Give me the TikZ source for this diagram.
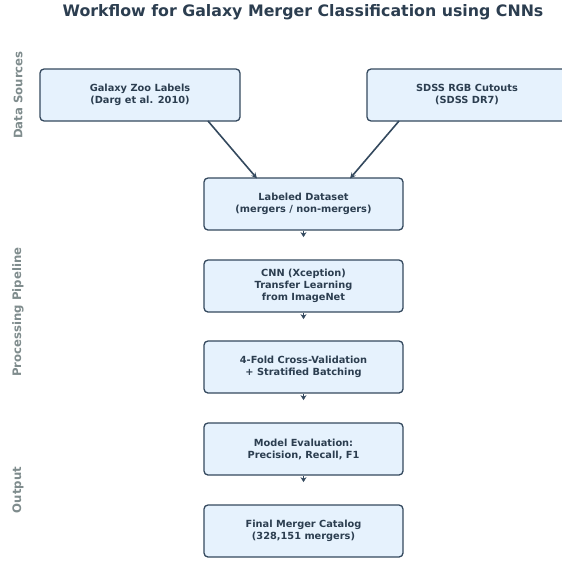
\documentclass[tikz,border=0pt]{standalone}
\usepackage{fontspec}
\setmainfont{DejaVu Sans}
\usetikzlibrary{arrows.meta,calc}
\definecolor{ink}{HTML}{2C3E50}
\definecolor{edge}{HTML}{34495E}
\definecolor{boxfill}{HTML}{E6F2FD}
\definecolor{side}{HTML}{7F8C8D}
\begin{document}
\begin{tikzpicture}[x=1pt,y=-1pt,
  box/.style={draw=edge,fill=boxfill,line width=1.3pt,rounded corners=4pt,
    minimum width=199pt,minimum height=52pt,align=center,text=ink,
    font=\fontsize{9.8}{12}\selectfont\bfseries,inner sep=0pt},
  conn/.style={draw=edge,line width=1.6pt,-{Stealth[length=6pt,width=5.5pt]}},
  stub/.style={draw=edge,line width=1.5pt,-{Stealth[length=5pt,width=6pt]}},
  sidelabel/.style={rotate=90,text=side,font=\fontsize{11.7}{14}\selectfont\bfseries},
  titlestyle/.style={text=ink,font=\fontsize{15.8}{18}\selectfont\bfseries}]
\useasboundingbox (0,0) rectangle (562,560);
\node[titlestyle] (title) at (303,12) {Workflow for Galaxy Merger Classification using CNNs};
\node[sidelabel] (ds) at (18,95) {Data Sources};
\node[sidelabel] (pp) at (18,312) {Processing Pipeline};
\node[sidelabel] (out) at (18,490) {Output};

\node[box,minimum width=200pt] (gz) at (140,95) {Galaxy Zoo Labels\\(Darg et al. 2010)};
\node[box,minimum width=200pt] (sdss) at (467,95) {SDSS RGB Cutouts\\(SDSS DR7)};
\node[box] (ld) at (303.5,204) {Labeled Dataset\\(mergers / non-mergers)};
\node[box] (cnn) at (303.5,286) {CNN (Xception)\\Transfer Learning\\from ImageNet};
\node[box] (cv) at (303.5,367) {4-Fold Cross-Validation\\+ Stratified Batching};
\node[box] (ev) at (303.5,449) {Model Evaluation:\\Precision, Recall, F1};
\node[box] (fin) at (303.5,531) {Final Merger Catalog\\(328,151 mergers)};

\coordinate (gzs) at (208,121);
\coordinate (sds) at (399,121);
\draw[conn] (gzs) -- (257,178.5);
\draw[conn] (sds) -- (350,178.5);

\foreach \a in {ld,cnn,cv,ev}{
  \coordinate (\a-tip) at ($(\a.south)+(0,6.5)$);
  \draw[stub] ($(\a.south)+(0,0.5)$) -- (\a-tip);
}
\end{tikzpicture}
\end{document}
